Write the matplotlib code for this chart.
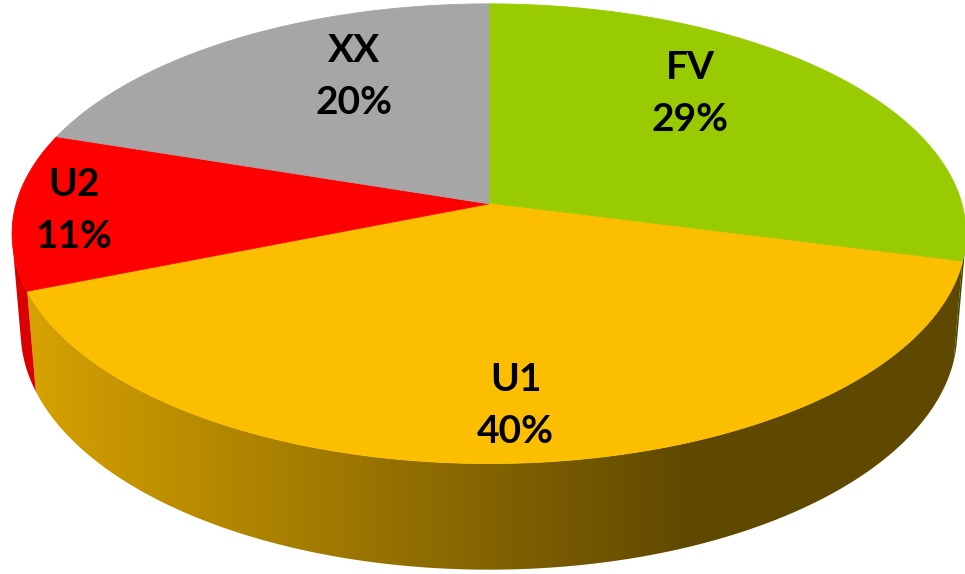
import numpy as np
import matplotlib.pyplot as plt
from matplotlib.patches import Polygon
from matplotlib.colors import to_rgb

# slice data (clockwise from 12 o'clock)
labels = ['FV', 'U1', 'U2', 'XX']
values = [29, 40, 11, 20]
colors = ['#99CC00', '#FBBE00', '#FF0000', '#A6A6A6']

# where the labels sit on the pie face (radius, angle shift in deg)
label_r = [0.69, 0.80, 0.875, 0.68]
label_shift = [-11, 0, 0, 9]

# camera / projection settings (pixel space)
W, H = 965, 574
elev = np.radians(30.3)
sin_e, cos_e = np.sin(elev), np.cos(elev)
D = 6.76        # camera distance
h = 0.238       # pie thickness
s = 3140.0
cx, cy = 489.0, 301.0


def proj(u, v, z):
    depth = D - v * cos_e - z * sin_e
    X = cx + s * u / depth
    Y = cy + s * (v * sin_e - z * cos_e) / depth
    return X, Y


def polar(theta_deg, r=1.0):
    t = np.radians(theta_deg)
    return r * np.sin(t), -r * np.cos(t)


def shade(X):
    # side gets darker from left to right
    return np.clip(0.86 - 0.48 * (X - 20) / 670, 0.38, 0.86)


fig = plt.figure(figsize=(W / 100, H / 100), dpi=100)
ax = fig.add_axes([0, 0, 1, 1])
ax.set_xlim(0, W)
ax.set_ylim(H, 0)
ax.axis('off')

total = float(sum(values))
bounds = np.concatenate([[0], np.cumsum(values)]) / total * 360

# only the part of the wall facing the camera is drawn
vis_lo = np.degrees(np.arccos(-1.0 / (D * cos_e)))
vis_hi = 360 - vis_lo

xs = np.arange(W) + 0.5
for i in range(len(values)):
    a0 = max(bounds[i], vis_lo)
    a1 = min(bounds[i + 1], vis_hi)
    if a1 <= a0:
        continue
    th = np.linspace(a0, a1, 300)
    u, v = polar(th)
    Xt, Yt = proj(u, v, h)
    Xb, Yb = proj(u, v, 0)
    pts = np.column_stack([np.concatenate([Xt, Xb[::-1]]),
                           np.concatenate([Yt, Yb[::-1]])])
    poly = Polygon(pts, closed=True, facecolor='none', edgecolor='none')
    ax.add_patch(poly)
    base = np.array(to_rgb(colors[i]))
    grad = shade(xs)[None, :, None] * base[None, None, :]
    im = ax.imshow(np.repeat(grad, 2, axis=0), extent=(0, W, H, 0),
                   aspect='auto', interpolation='bilinear', zorder=1)
    im.set_clip_path(poly)

# top faces
for i in range(len(values)):
    th = np.linspace(bounds[i], bounds[i + 1], 200)
    u, v = polar(th)
    X, Y = proj(u, v, h)
    Xc, Yc = proj(0, 0, h)
    pts = np.column_stack([np.concatenate([[Xc], X]), np.concatenate([[Yc], Y])])
    ax.add_patch(Polygon(pts, closed=True, facecolor=colors[i],
                         edgecolor=colors[i], linewidth=0.6, zorder=2))

ax.set_xlim(0, W)
ax.set_ylim(H, 0)

# labels
for i in range(len(values)):
    mid = (bounds[i] + bounds[i + 1]) / 2 + label_shift[i]
    u, v = polar(mid, label_r[i])
    X, Y = proj(u, v, h)
    pct = str(int(round(values[i] / total * 100))) + '%'
    ax.text(X, Y - 26, labels[i], ha='center', va='center', fontsize=28,
            fontweight='bold', family='Lato', color='black', zorder=3)
    ax.text(X, Y + 26, pct, ha='center', va='center', fontsize=28,
            fontweight='bold', family='Lato', color='black', zorder=3)

plt.savefig('out.png', dpi=100, facecolor='white')
